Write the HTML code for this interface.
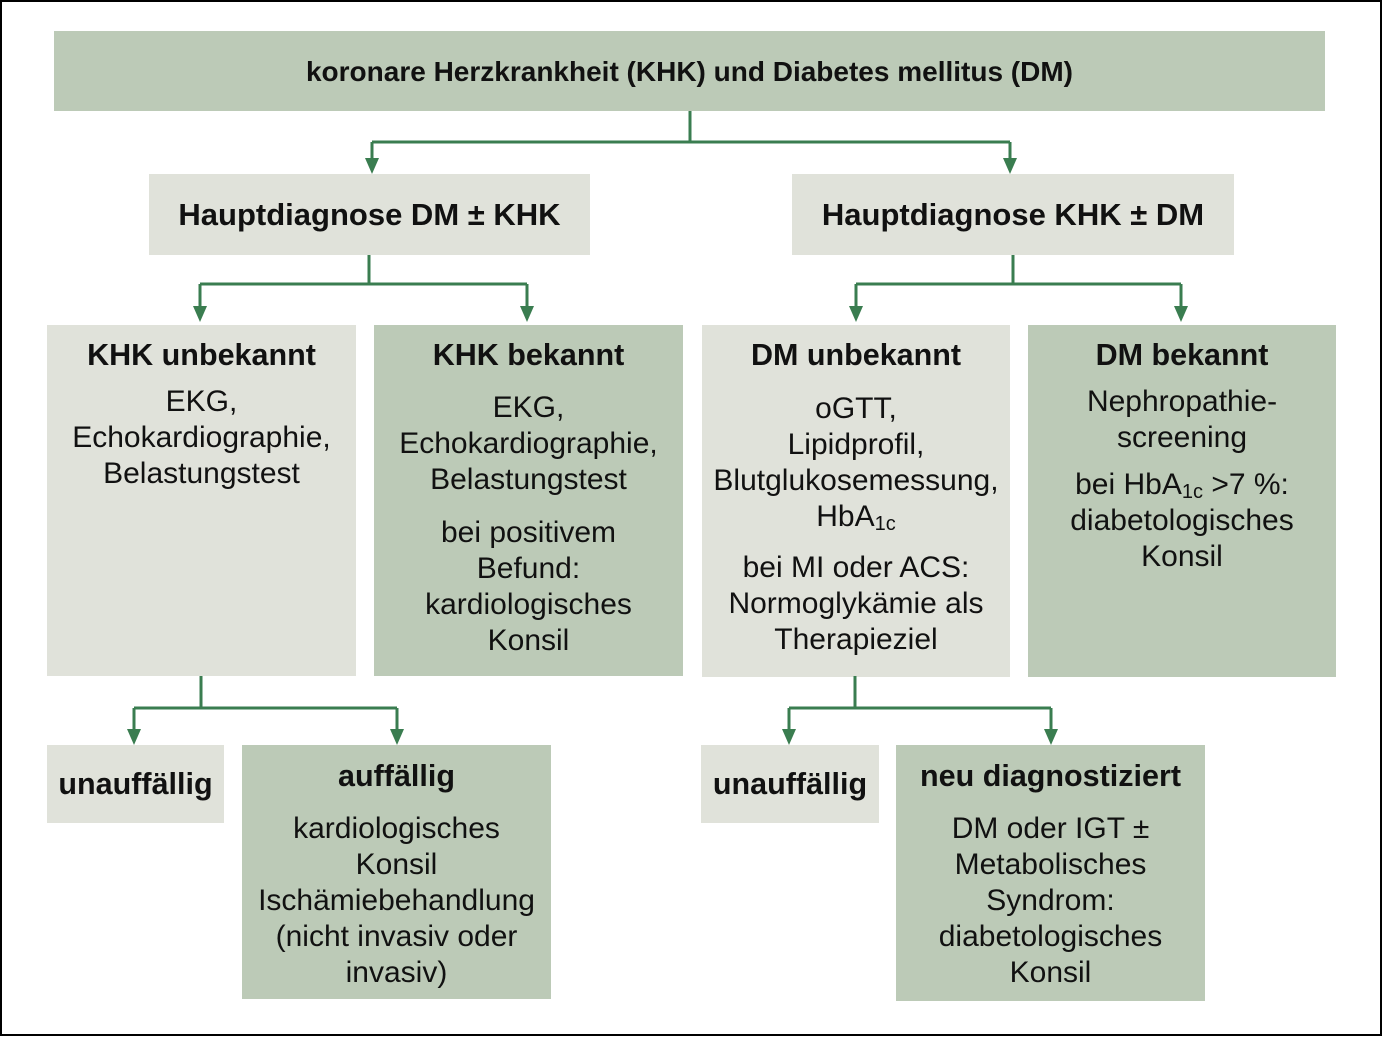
<!DOCTYPE html>
<html><head><meta charset="utf-8"><style>
html,body{margin:0;padding:0}
body{width:1382px;height:1037px;position:relative;background:#fff;overflow:hidden;font-family:"Liberation Sans","DejaVu Sans",sans-serif;color:#111}
.frame{position:absolute;left:0;top:0;width:1378px;height:1032px;border:2px solid #000}
.b{position:absolute}
.d{background:#bccab7}
.l{background:#e0e2da}
.t{position:absolute;text-align:center;font-size:30px;line-height:36px;white-space:nowrap}
.h{font-weight:bold;font-size:30.5px}
sub{font-size:20px;vertical-align:-4px;line-height:0}
</style></head><body>
<div class="frame"></div>
<div class="b d" style="left:54px;top:31px;width:1271px;height:80px"></div>
<div class="b l" style="left:149px;top:174px;width:441px;height:81px"></div>
<div class="b l" style="left:792px;top:174px;width:442px;height:81px"></div>
<div class="b l" style="left:47px;top:325px;width:309px;height:351px"></div>
<div class="b d" style="left:374px;top:325px;width:309px;height:351px"></div>
<div class="b l" style="left:702px;top:325px;width:308px;height:352px"></div>
<div class="b d" style="left:1028px;top:325px;width:308px;height:352px"></div>
<div class="b l" style="left:47px;top:745px;width:177px;height:78px"></div>
<div class="b d" style="left:242px;top:745px;width:309px;height:254px"></div>
<div class="b l" style="left:701px;top:745px;width:178px;height:78px"></div>
<div class="b d" style="left:896px;top:745px;width:309px;height:256px"></div>

<svg class="b" style="left:0;top:0" width="1382" height="1037">
<g stroke="#3a7d50" stroke-width="3" fill="none">
<path d="M690 111V142M372 142H1010M372 142V160M1010 142V160"/>
<path d="M369 255V284M200 284H527M200 284V308M527 284V308"/>
<path d="M1013 255V284M856 284H1181M856 284V308M1181 284V308"/>
<path d="M201 676V708M134 708H397M134 708V731M397 708V731"/>
<path d="M855 676V708M789 708H1051M789 708V731M1051 708V731"/>
</g>
<g fill="#3a7d50">
<path d="M365 158H379L372 174Z"/><path d="M1003 158H1017L1010 174Z"/>
<path d="M193 306H207L200 322Z"/><path d="M520 306H534L527 322Z"/>
<path d="M849 306H863L856 322Z"/><path d="M1174 306H1188L1181 322Z"/>
<path d="M127 729H141L134 745Z"/><path d="M390 729H404L397 745Z"/>
<path d="M782 729H796L789 745Z"/><path d="M1044 729H1058L1051 745Z"/>
</g>
</svg>

<div class="t h" style="left:54px;width:1271px;top:54px;font-size:28px">koronare Herzkrankheit (KHK) und Diabetes mellitus (DM)</div>
<div class="t h" style="left:149px;width:441px;top:197px;font-size:31px">Hauptdiagnose DM ± KHK</div>
<div class="t h" style="left:792px;width:442px;top:197px;font-size:31px">Hauptdiagnose KHK ± DM</div>

<div class="t h" style="left:47px;width:309px;top:337px">KHK unbekannt</div>
<div class="t" style="left:47px;width:309px;top:384px">EKG,<br>Echokardiographie,<br>Belastungstest</div>

<div class="t h" style="left:374px;width:309px;top:337px">KHK bekannt</div>
<div class="t" style="left:374px;width:309px;top:390px">EKG,<br>Echokardiographie,<br>Belastungstest</div>
<div class="t" style="left:374px;width:309px;top:515px">bei positivem<br>Befund:<br>kardiologisches<br>Konsil</div>

<div class="t h" style="left:702px;width:308px;top:337px">DM unbekannt</div>
<div class="t" style="left:702px;width:308px;top:391px">oGTT,<br>Lipidprofil,<br>Blutglukosemessung,<br>HbA<sub>1c</sub></div>
<div class="t" style="left:702px;width:308px;top:550px">bei MI oder ACS:<br>Normoglykämie als<br>Therapieziel</div>

<div class="t h" style="left:1028px;width:308px;top:337px">DM bekannt</div>
<div class="t" style="left:1028px;width:308px;top:384px">Nephropathie-<br>screening</div>
<div class="t" style="left:1028px;width:308px;top:467px">bei HbA<sub>1c</sub> &gt;7 %:<br>diabetologisches<br>Konsil</div>

<div class="t h" style="left:47px;width:177px;top:766px">unauffällig</div>
<div class="t h" style="left:242px;width:309px;top:758px">auffällig</div>
<div class="t" style="left:242px;width:309px;top:811px">kardiologisches<br>Konsil<br>Ischämiebehandlung<br>(nicht invasiv oder<br>invasiv)</div>

<div class="t h" style="left:701px;width:178px;top:766px">unauffällig</div>
<div class="t h" style="left:896px;width:309px;top:758px">neu diagnostiziert</div>
<div class="t" style="left:896px;width:309px;top:811px">DM oder IGT ±<br>Metabolisches<br>Syndrom:<br>diabetologisches<br>Konsil</div>
</body></html>
